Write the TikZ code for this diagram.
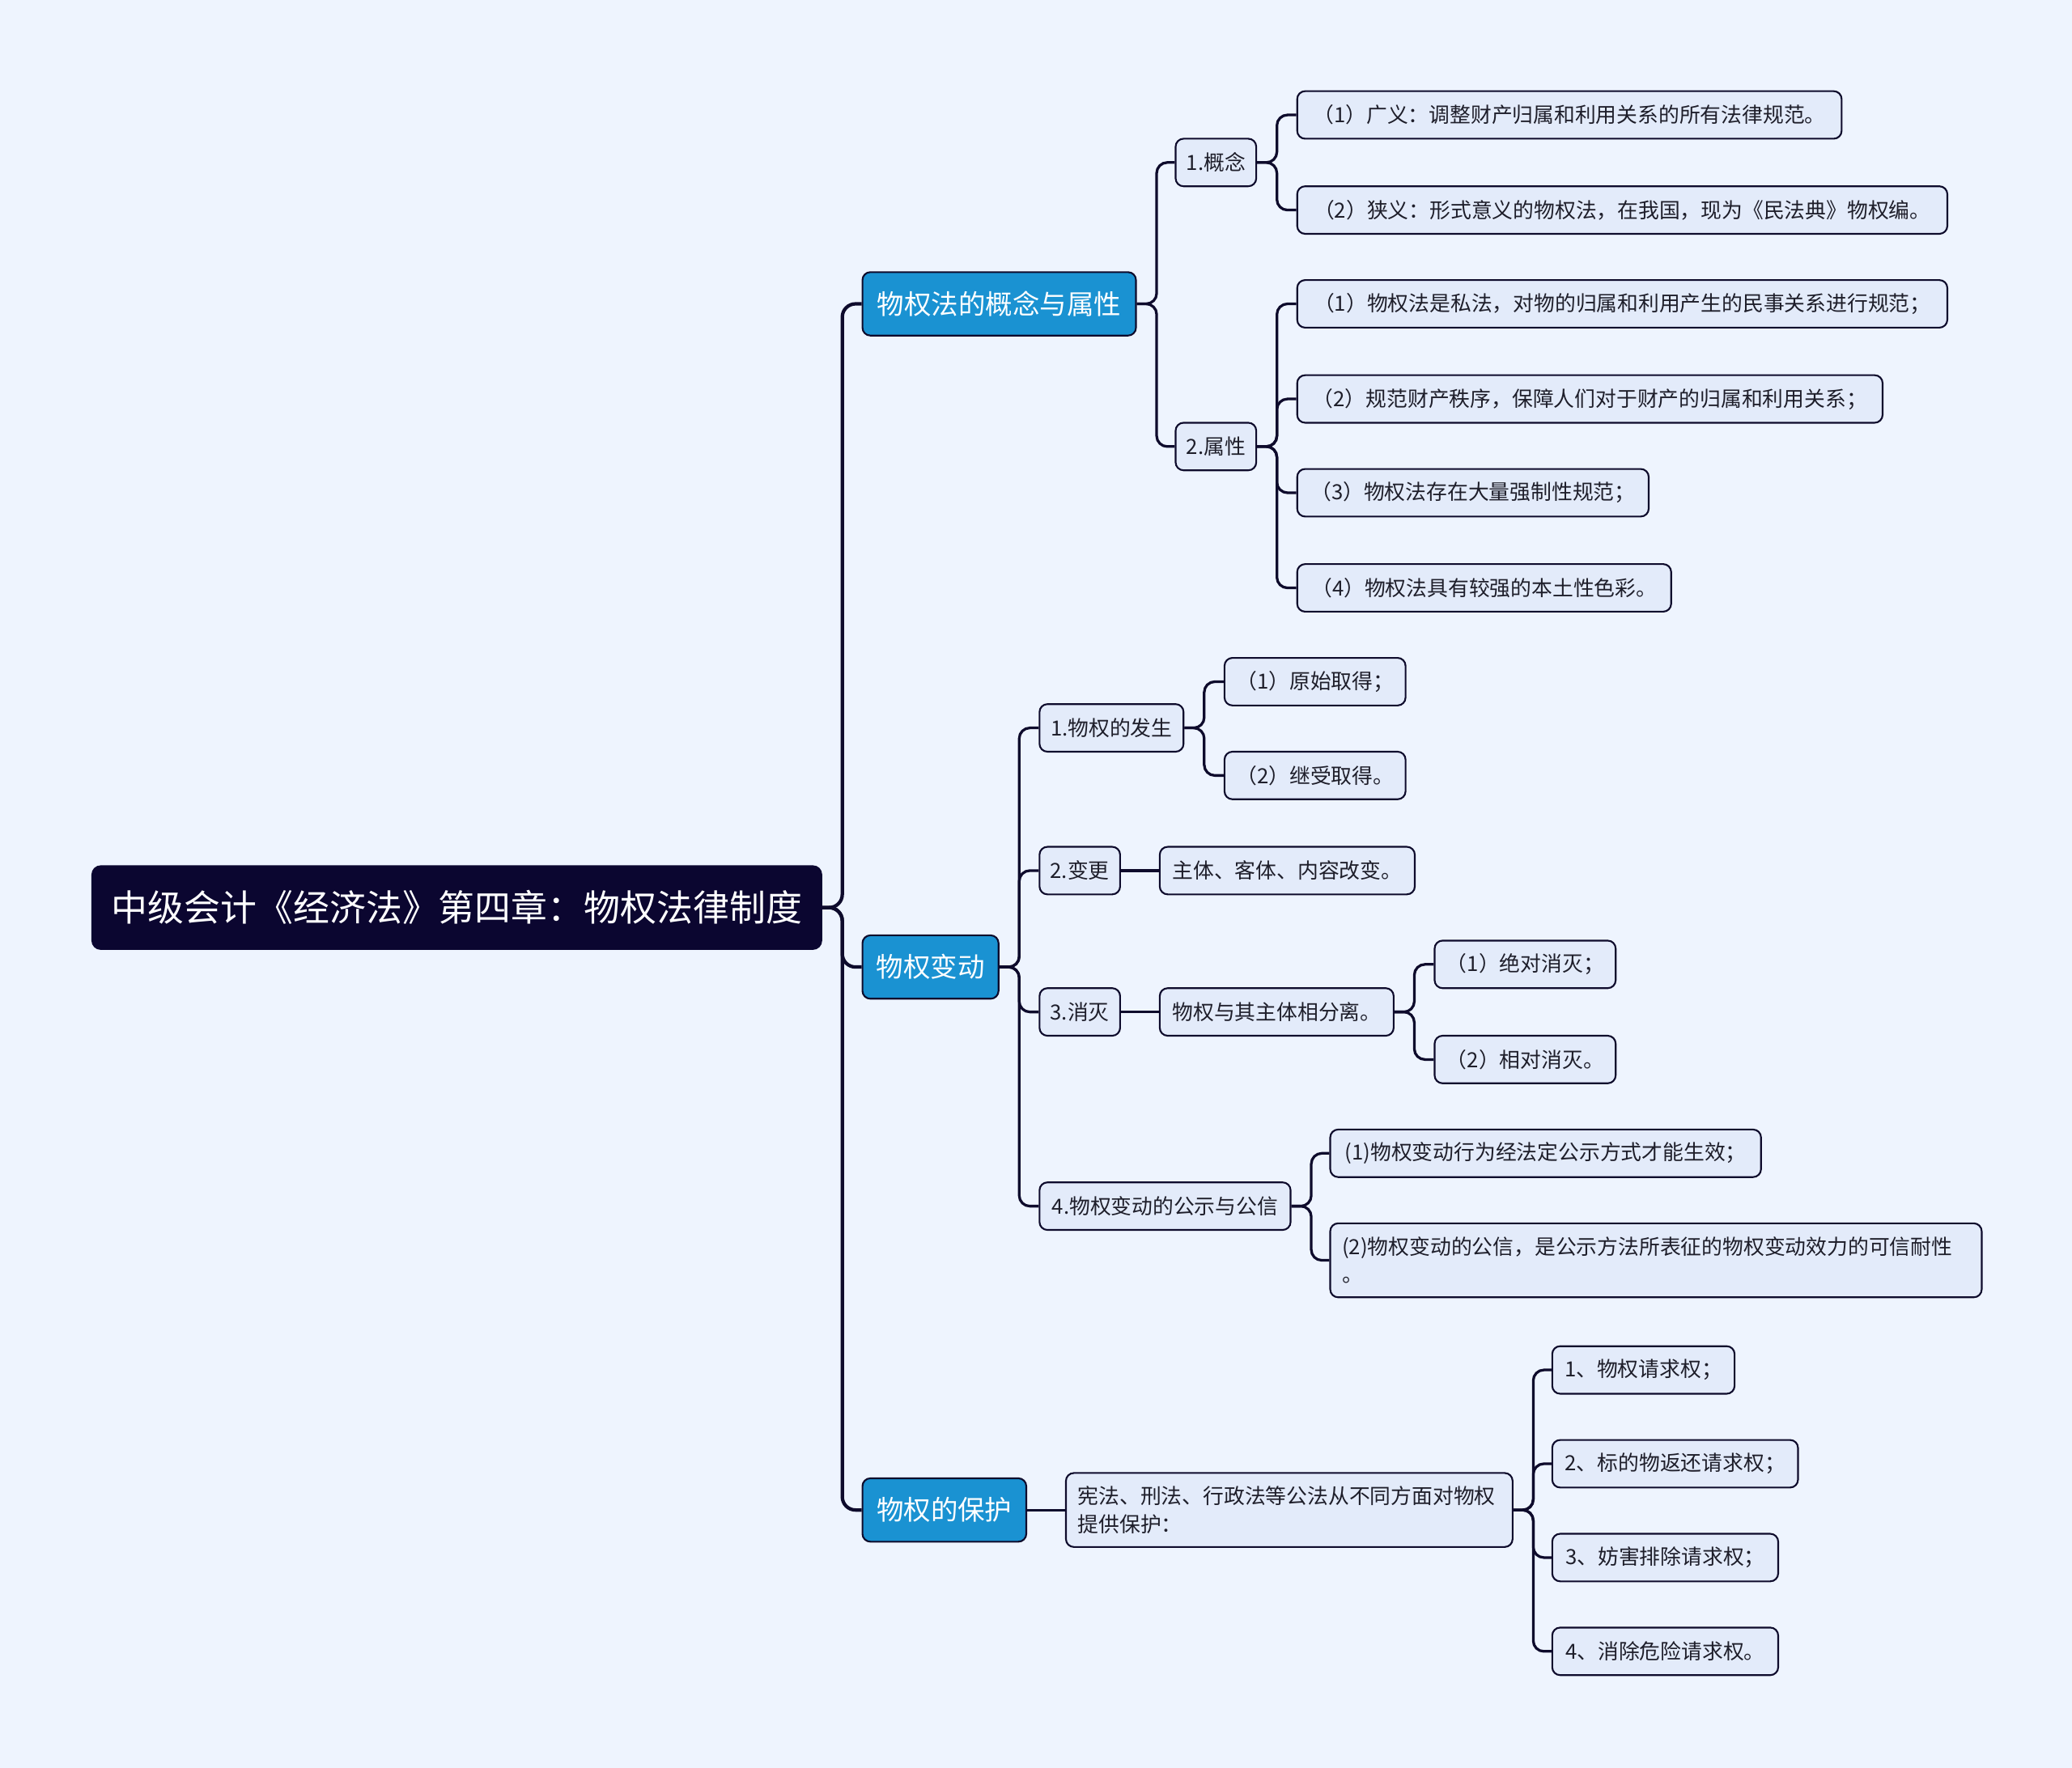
\documentclass[tikz,border=0pt]{standalone}
\usepackage{fontspec}
\setmainfont{Noto Sans CJK SC}
\definecolor{bgc}{HTML}{EEF4FE}
\definecolor{linec}{HTML}{0E0B2C}
\definecolor{rootf}{HTML}{0B0630}
\definecolor{catf}{HTML}{1A92D2}
\definecolor{leaff}{HTML}{E3EBFA}
\definecolor{textc}{HTML}{1E1E2A}
\newcommand\myleaffont{\fontsize{15.8pt}{21pt}\selectfont}
\newcommand\mycatfont{\fontsize{20.5pt}{24pt}\selectfont}
\newcommand\myrootfont{\fontsize{27.5pt}{32pt}\selectfont}
\tikzset{
  leaf/.style={draw=linec, line width=1.3pt, fill=leaff, rounded corners=6pt,
    minimum height=36pt, inner xsep=6pt, inner ysep=3pt, font=\myleaffont, text=textc, anchor=west},
  leaftwo/.style={leaf, minimum height=56pt, align=left, inner xsep=9pt},
  catnode/.style={draw=linec, line width=1.3pt, fill=catf, rounded corners=6pt,
    minimum height=48pt, inner xsep=6pt, font=\mycatfont, text=white, anchor=west},
  rootnode/.style={fill=rootf, rounded corners=7pt, minimum height=64pt, inner xsep=8pt,
    font=\myrootfont, text=white, anchor=west},
  conn/.style={draw=linec, line width=2pt, rounded corners=8pt},
  trunk/.style={draw=linec, line width=2.6pt, rounded corners=10pt}
}
\begin{document}
\begin{tikzpicture}[x=1pt,y=-1pt]
\fill[bgc] (0,0) rectangle (1568,1338);
\useasboundingbox (0,0) rectangle (1568,1338);

% root and categories
\node[rootnode, minimum width=553pt] (root) at (69,687) {中级会计《经济法》第四章：物权法律制度};
\node[catnode, minimum width=207pt] (c1) at (652,230) {物权法的概念与属性};
\node[catnode, minimum width=103pt] (c2) at (652,732) {物权变动};
\node[catnode, minimum width=124pt] (c3) at (652,1143) {物权的保护};

% category 1
\node[leaf, minimum width=61pt] (g1) at (889,123) {1.概念};
\node[leaf, minimum width=61pt] (g2) at (889,338) {2.属性};
\node[leaf, minimum width=412pt] (a1) at (981,87) {（1）广义：调整财产归属和利用关系的所有法律规范。};
\node[leaf, minimum width=492pt] (a2) at (981,159) {（2）狭义：形式意义的物权法，在我国，现为《民法典》物权编。};
\node[leaf, minimum width=492pt] (b1) at (981,230) {（1）物权法是私法，对物的归属和利用产生的民事关系进行规范；};
\node[leaf, minimum width=443pt] (b2) at (981,302) {（2）规范财产秩序，保障人们对于财产的归属和利用关系；};
\node[leaf, minimum width=266pt] (b3) at (981,373) {（3）物权法存在大量强制性规范；};
\node[leaf, minimum width=283pt] (b4) at (981,445) {（4）物权法具有较强的本土性色彩。};

% category 2
\node[leaf, minimum width=109pt] (h1) at (786,551) {1.物权的发生};
\node[leaf, minimum width=61pt] (h2) at (786,659) {2.变更};
\node[leaf, minimum width=61pt] (h3) at (786,766) {3.消灭};
\node[leaf, minimum width=190pt] (h4) at (786,913) {4.物权变动的公示与公信};
\node[leaf, minimum width=137pt] (i1) at (926,516) {（1）原始取得；};
\node[leaf, minimum width=137pt] (i2) at (926,587) {（2）继受取得。};
\node[leaf, minimum width=193pt] (j1) at (877,659) {主体、客体、内容改变。};
\node[leaf, minimum width=177pt] (k1) at (877,766) {物权与其主体相分离。};
\node[leaf, minimum width=137pt] (k11) at (1085,730) {（1）绝对消灭；};
\node[leaf, minimum width=137pt] (k12) at (1085,802) {（2）相对消灭。};
\node[leaf, minimum width=326pt] (l1) at (1006,873) {(1)物权变动行为经法定公示方式才能生效；};
\node[leaftwo, text width=475pt] (l2) at (1006,954) {(2)物权变动的公信，是公示方法所表征的物权变动效力的可信耐性\\。};

% category 3
\node[leaftwo, text width=320pt] (m1) at (806,1143) {宪法、刑法、行政法等公法从不同方面对物权\\提供保护：};
\node[leaf, minimum width=138pt] (n1) at (1174,1037) {1、物权请求权；};
\node[leaf, minimum width=186pt] (n2) at (1174,1108) {2、标的物返还请求权；};
\node[leaf, minimum width=171pt] (n3) at (1174,1179) {3、妨害排除请求权；};
\node[leaf, minimum width=171pt] (n4) at (1174,1250) {4、消除危险请求权。};

% connectors
\foreach \c in {c1,c2,c3}
  \draw[trunk] (root.east) -- ++(15,0) |- (\c.west);
\foreach \c in {g1,g2}
  \draw[conn] (c1.east) -- ++(15,0) |- (\c.west);
\foreach \c in {a1,a2}
  \draw[conn] (g1.east) -- ++(15,0) |- (\c.west);
\foreach \c in {b1,b2,b3,b4}
  \draw[conn] (g2.east) -- ++(15,0) |- (\c.west);
\foreach \c in {h1,h2,h3,h4}
  \draw[conn] (c2.east) -- ++(15,0) |- (\c.west);
\foreach \c in {i1,i2}
  \draw[conn] (h1.east) -- ++(15,0) |- (\c.west);
\draw[conn] (h2.east) -- (j1.west);
\draw[conn] (h3.east) -- (k1.west);
\foreach \c in {k11,k12}
  \draw[conn] (k1.east) -- ++(15,0) |- (\c.west);
\foreach \c in {l1,l2}
  \draw[conn] (h4.east) -- ++(15,0) |- (\c.west);
\draw[conn] (c3.east) -- (m1.west);
\foreach \c in {n1,n2,n3,n4}
  \draw[conn] (m1.east) -- ++(15,0) |- (\c.west);
\end{tikzpicture}
\end{document}
